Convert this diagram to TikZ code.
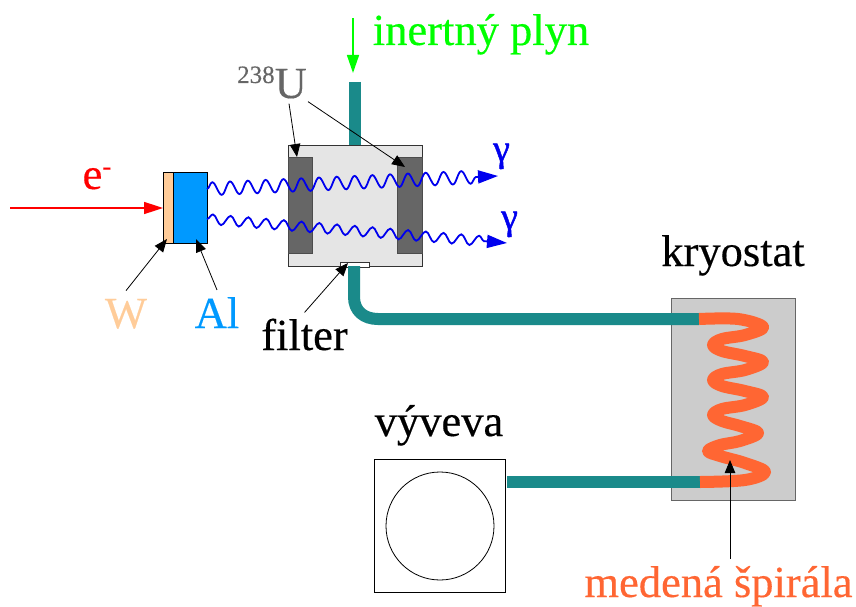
\documentclass[tikz,border=0pt]{standalone}
\usepackage{fontspec}
\setmainfont[FakeBold=0.35]{Liberation Serif}
\newfontfamily\gamfont[FakeBold=1.2]{Liberation Serif}
\usetikzlibrary{arrows.meta,decorations.pathmorphing,calc}
\definecolor{pipe}{HTML}{1A8A8A}
\definecolor{copper}{HTML}{FF6633}
\definecolor{tung}{HTML}{FFCC99}
\definecolor{alu}{HTML}{0099FF}
\definecolor{gas}{HTML}{00FF00}
\definecolor{ugray}{HTML}{666666}
\definecolor{wave}{HTML}{0000EE}
\tikzset{
 lbl/.style={inner sep=0pt,anchor=base,font=\fontsize{44.5}{48}\selectfont},
 ptr/.style={draw=black,line width=0.8pt,-{Triangle[length=13pt,width=10.5pt]}},
 box/.style={draw=#1,inner sep=0pt,outer sep=0pt,line width=1pt,anchor=north west},
 pipeline/.style={draw=pipe,line width=12pt},
 coil/.style={draw=copper,line width=12pt,line join=round},
 photon/.style={draw=wave,line width=1.8pt,decorate,decoration={snake,segment length=17.8pt,amplitude=6.5pt,post=lineto,post length=20pt},-{Triangle[length=20pt,width=13pt]}},
 gam/.style={text=wave,inner sep=0pt,anchor=base,font=\fontsize{38}{40}\selectfont\gamfont},
}
\begin{document}
\begin{tikzpicture}[x=1pt,y=-1pt]
\useasboundingbox (0,0) rectangle (856,607);
% upper gas pipe
\coordinate (gasin) at (355,82);
\node[box=black!80,fill=black!10,minimum width=134pt,minimum height=121pt] (chamber) at (288,145) {};
\draw[pipeline] (gasin) -- (gasin |- chamber.north);
\node[box=black!70,fill=ugray,minimum width=24pt,minimum height=96pt] (uleft) at (288,157) {};
\node[box=black!70,fill=ugray,minimum width=25pt,minimum height=96pt] (uright) at (397,157) {};
\node[box=black!80,fill=white,minimum width=29pt,minimum height=5pt] (filt) at (340,262) {};
% target
\node[box=black,fill=tung,minimum width=10pt,minimum height=71pt] (tw) at (163,172) {};
\node[box=black,fill=alu,minimum width=34pt,minimum height=71pt] (tal) at (173,172) {};
% cryostat and pump
\node[box=black!60,fill=black!20,minimum width=124pt,minimum height=202pt] (kryo) at (671,298) {};
\node[box=black,minimum width=131pt,minimum height=133pt] (pump) at (374,459) {};
\node[draw=black,circle,line width=0.8pt,minimum size=108pt,inner sep=0pt] (rotor) at (440,526) {};
% pipes
\coordinate (coilin) at (699,319);
\coordinate (coilout) at (700,482);
\draw[pipeline] (354,266) -- (354,297) .. controls (354,311) and (364,319) .. (378,319) -- (coilin);
\draw[pipeline] ([xshift=2pt]pump.east |- coilout) -- (coilout);
\draw[coil] plot[smooth,tension=0.6] coordinates {(699,319) (738,319) (763,327) (745,335) (722,339) (713,345) (722,351) (745,356) (763,362) (745,370) (722,374) (713,380) (722,386) (745,391) (763,397) (745,405) (722,409) (713,415) (722,421) (740,426) (758,433) (740,441) (720,445) (708,451) (720,456) (745,463) (765,472) (745,480) (700,482)};
% labels
\node[lbl,text=gas] (gaslbl) at (481,45) {inertný plyn};
\node[lbl,text=ugray] (ulbl) at (272,98) {\raisebox{15pt}{\fontsize{25}{28}\selectfont 238}U};
\node[lbl,text=red] (elbl) at (97,189) {e\raisebox{14pt}{\fontsize{27}{30}\selectfont -}};
\node[lbl,text=tung] (wlbl) at (126,328) {W};
\node[lbl,text=alu] (allbl) at (217,328) {Al};
\node[lbl] (flbl) at (304.5,350) {filter};
\node[lbl] (vlbl) at (439,436) {výveva};
\node[lbl] (klbl) at (733,266) {kryostat};
\node[lbl,text=copper] (mlbl) at (718.5,597) {medená špirála};
\node[gam] (g1lbl) at (501.5,161) {γ};
\node[gam] (g2lbl) at (509.5,229) {γ};
% arrows
\coordinate (ein) at (10,208);
\coordinate (gastop) at (353,18);
\coordinate (gasend) at (353,73);
\coordinate (g1) at (498,176);
\coordinate (g2) at (507,243);
\coordinate (coilpt) at (730,460);
\draw[red,line width=1.6pt,-{Triangle[length=19pt,width=12pt]}] (ein) -- (ein -| tw.west);
\draw[gas,line width=1.5pt,-{Triangle[length=18pt,width=12pt]}] (gastop) -- (gasend);
\draw[ptr] ([xshift=17pt,yshift=-5pt]ulbl.south) -- ([xshift=-3pt]uleft.north);
\draw[ptr] ([xshift=36pt,yshift=-3pt]ulbl.south) -- ([xshift=8pt,yshift=-10pt]uright.north west);
\draw[ptr] ([yshift=8pt]wlbl.north) -- ([xshift=4pt,yshift=4pt]tw.south west);
\draw[ptr] ([yshift=7pt]allbl.north) -- ([xshift=6pt,yshift=4pt]tal.south);
\draw[ptr] ([yshift=6pt]flbl.north) -- ([xshift=8pt,yshift=-1pt]filt.north west);
\draw[ptr] ([xshift=11.5pt,yshift=7pt]mlbl.north) -- (coilpt);
\draw[photon] ([yshift=18.5pt]tal.east) -- (g1);
\draw[photon,decoration={amplitude=5pt}] ([yshift=-11.5pt]tal.east) -- (g2);
\end{tikzpicture}
\end{document}
